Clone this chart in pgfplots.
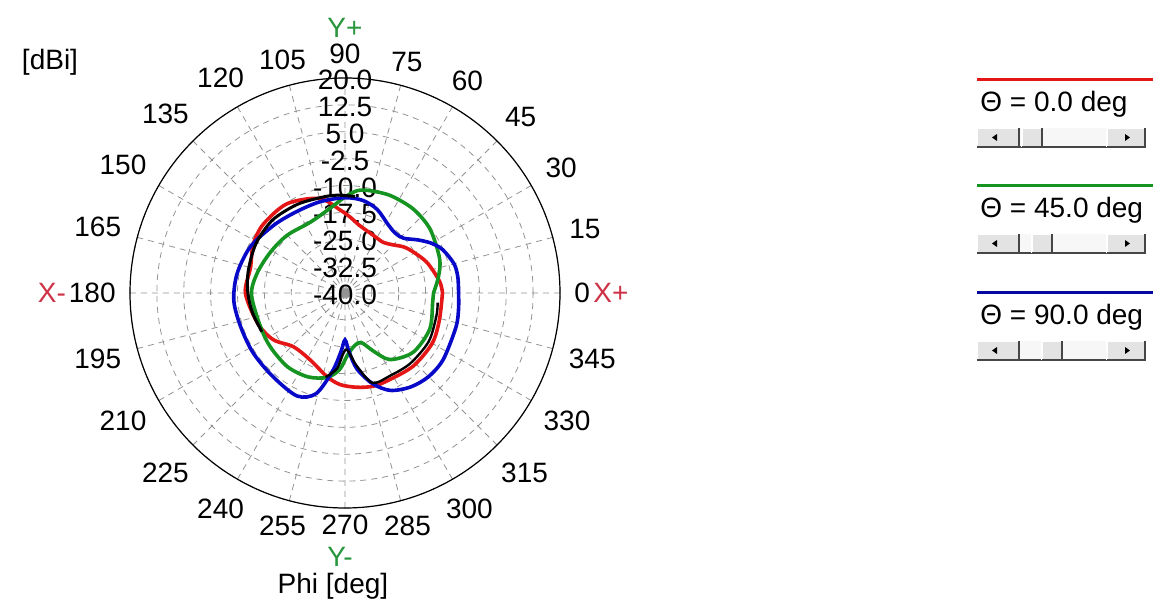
\documentclass[border=0pt]{standalone}
\usepackage{fontspec}
\setmainfont{Liberation Sans}
\usepackage{pgfplots}
\pgfplotsset{compat=1.18}
\usepgfplotslibrary{polar}
\usepackage{pgfplotstable}

\definecolor{cred}{RGB}{228,22,22}
\definecolor{cgreen}{RGB}{22,148,34}
\definecolor{cblue}{RGB}{8,8,200}
\definecolor{axred}{RGB}{205,50,70}
\definecolor{axgreen}{RGB}{40,150,60}
\newcommand{\lf}{\fontsize{14}{16}\selectfont}

% theta = 0 deg
\pgfplotstableread{
phi db
0 -12.8
7 -13.4
21 -15.7
36 -18.7
45 -21.0
53 -22.3
65 -22.0
78 -20.7
86 -18.8
93 -16.9
105 -12.7
123 -10.3
140 -10.2
152 -11.0
165 -12.7
180 -12.2
199 -14.2
213 -16.1
226 -19.2
242 -19.0
258 -16.1
267 -14.4
277 -13.5
287 -12.8
297 -12.8
313 -12.1
330 -11.9
344 -12.6
360 -12.8
}\redtab

% theta = 45 deg
\pgfplotstableread{
phi db
0 -15.3
10 -13.5
20 -11.9
37 -10.3
51 -9.8
65 -10.0
76 -10.6
83 -11.2
90 -13.2
100 -16.0
116 -18.0
135 -17.2
151 -16.3
167 -14.9
181 -13.9
202 -14.6
216 -14.3
232 -13.9
246 -14.4
258 -15.9
266 -18.6
272 -22.5
280 -25.0
288 -25.5
296 -22.0
304 -17.6
319 -14.8
337 -14.3
354 -15.4
360 -15.3
}\greentab

% theta = 90 deg
\pgfplotstableread{
phi db
0 -8.3
8 -8.2
15 -8.5
24 -10.2
30 -12.2
36 -14.8
43 -17.6
50 -18.2
58 -17.4
69 -15.0
79 -13.7
90 -13.4
105 -13.6
120 -13.6
136 -12.6
154 -10.6
170 -9.4
184 -8.9
198 -9.4
213 -9.4
229 -9.2
245 -8.3
254 -10.8
261 -18.0
266 -23.5
270 -26.9
274 -23.5
279 -18.5
287 -13.5
295 -10.0
305 -8.0
315 -7.0
326 -6.9
343 -7.6
352 -8.0
360 -8.3
}\bluetab

% black trace (upper left part)
\pgfplotstableread{
phi db
84 -12.9
95 -12.6
105 -12.5
119 -11.9
135 -11.3
151 -11.6
167 -12.3
180 -12.9
192 -13.6
205 -14.4
}\blacktabA

% black trace (lower right part)
\pgfplotstableread{
phi db
257 -15.9
264 -18.8
271 -24.2
279 -19.5
287 -13.8
299 -13.7
313 -13.2
330 -13.0
346 -13.7
354 -14.0
}\blacktabB

\newcommand{\scrollbar}[2]{% #1 = y of colour line (px), #2 = thumb x (px)
  \fill[gray!6] (977,{#1+48}) rectangle (1145,{#1+67});
  \draw[gray!55!black, line width=0.6pt] (977,{#1+67}) -- (1145,{#1+67});
  % left button
  \fill[gray!22] (977,{#1+48}) rectangle (1019,{#1+67});
  \draw[white, line width=0.6pt] (977,{#1+67}) -- (977,{#1+48}) -- (1019,{#1+48});
  \draw[gray!55!black, line width=0.6pt] (1019,{#1+48}) -- (1019,{#1+67}) -- (977,{#1+67});
  \fill[black] (992,{#1+57.5}) -- (997,{#1+54}) -- (997,{#1+61}) -- cycle;
  % thumb
  \fill[gray!22] (#2,{#1+48}) rectangle ({#2+20},{#1+67});
  \draw[white, line width=0.6pt] (#2,{#1+67}) -- (#2,{#1+48}) -- ({#2+20},{#1+48});
  \draw[gray!55!black, line width=0.6pt] ({#2+20},{#1+48}) -- ({#2+20},{#1+67}) -- (#2,{#1+67});
  % right button
  \fill[gray!22] (1107,{#1+48}) rectangle (1145,{#1+67});
  \draw[white, line width=0.6pt] (1107,{#1+67}) -- (1107,{#1+48}) -- (1145,{#1+48});
  \draw[gray!55!black, line width=0.6pt] (1145,{#1+48}) -- (1145,{#1+67}) -- (1107,{#1+67});
  \fill[black] (1130,{#1+57.5}) -- (1125,{#1+54}) -- (1125,{#1+61}) -- cycle;
}

\begin{document}
\begin{tikzpicture}
\useasboundingbox (0,0) rectangle (576.5pt,299.5pt);
\begin{polaraxis}[
  at={(172.5pt,153pt)}, anchor=center,
  scale only axis, width=215pt, height=215pt,
  ymin=0, ymax=60,
  xtick={0,15,...,345},
  xticklabels={0,15,30,45,60,75,,105,120,135,150,165,180,195,210,225,240,255,270,285,300,315,330,345},
  ytick={0,7.5,...,60},
  yticklabels={},
  grid=major,
  major grid style={gray!85, line width=0.4pt, dash pattern=on 3pt off 2.5pt},
  axis line style={black, line width=0.6pt},
  y axis line style={draw=none},
  tick style={draw=none},
  xticklabel style={font=\lf, inner xsep=7pt, inner ysep=3.5pt},
  clip=false,
]
\node[font=\lf, inner sep=0pt, yshift=-1pt] at (axis cs:90,60) {20.0};
\node[font=\lf, inner sep=0pt, yshift=-1pt] at (axis cs:90,52.5) {12.5};
\node[font=\lf, inner sep=0pt, yshift=-1pt] at (axis cs:90,45) {5.0};
\node[font=\lf, inner sep=0pt, yshift=-1pt] at (axis cs:90,37.5) {-2.5};
\node[font=\lf, inner sep=0pt, yshift=-1pt] at (axis cs:90,30) {-10.0};
\node[font=\lf, inner sep=0pt, yshift=-1pt] at (axis cs:90,22.5) {-17.5};
\node[font=\lf, inner sep=0pt, yshift=-1pt] at (axis cs:90,15) {-25.0};
\node[font=\lf, inner sep=0pt, yshift=-1pt] at (axis cs:90,7.5) {-32.5};
\node[font=\lf, inner sep=0pt, yshift=-1pt] at (axis cs:90,0) {-40.0};
\addplot[cred, line width=1.8pt, smooth] table[x=phi, y expr=\thisrow{db}+40] {\redtab};
\addplot[cgreen, line width=1.8pt, smooth] table[x=phi, y expr=\thisrow{db}+40] {\greentab};
\addplot[cblue, line width=1.8pt, smooth] table[x=phi, y expr=\thisrow{db}+40] {\bluetab};
\addplot[black, line width=1.5pt, smooth] table[x=phi, y expr=\thisrow{db}+40] {\blacktabA};
\addplot[black, line width=1.2pt, smooth] table[x=phi, y expr=\thisrow{db}+40] {\blacktabB};
\end{polaraxis}

\begin{scope}[x=0.5pt, y=-0.5pt, shift={(0,299.5pt)}]
  \node[font=\lf] at (50,62) {[dBi]};
  \node[font=\lf, text=axgreen, inner sep=0pt] at (345,28) {Y+};
  \node[font=\lf, inner sep=0pt] at (345,54) {90};
  \node[font=\lf, text=axgreen, inner sep=0pt] at (340,557) {Y-};
  \node[font=\lf, inner sep=0pt] at (333,586) {Phi [deg]};
  \node[font=\lf, text=axred, inner sep=0pt] at (52,293) {X-};
  \node[font=\lf, text=axred, inner sep=0pt] at (611,293) {X+};
  % legend
  \draw[cred, line width=1.5pt] (977,80) -- (1153,80);
  \node[anchor=base west, font=\lf, inner sep=0pt] at (980,112) {Θ = 0.0 deg};
  \scrollbar{80}{1022}
  \draw[cgreen, line width=1.5pt] (977,186) -- (1153,186);
  \node[anchor=base west, font=\lf, inner sep=0pt] at (980,218) {Θ = 45.0 deg};
  \scrollbar{186}{1032}
  \draw[cblue!80!black, line width=1.5pt] (977,293) -- (1153,293);
  \node[anchor=base west, font=\lf, inner sep=0pt] at (980,325) {Θ = 90.0 deg};
  \scrollbar{293}{1042}
\end{scope}
\end{tikzpicture}
\end{document}
